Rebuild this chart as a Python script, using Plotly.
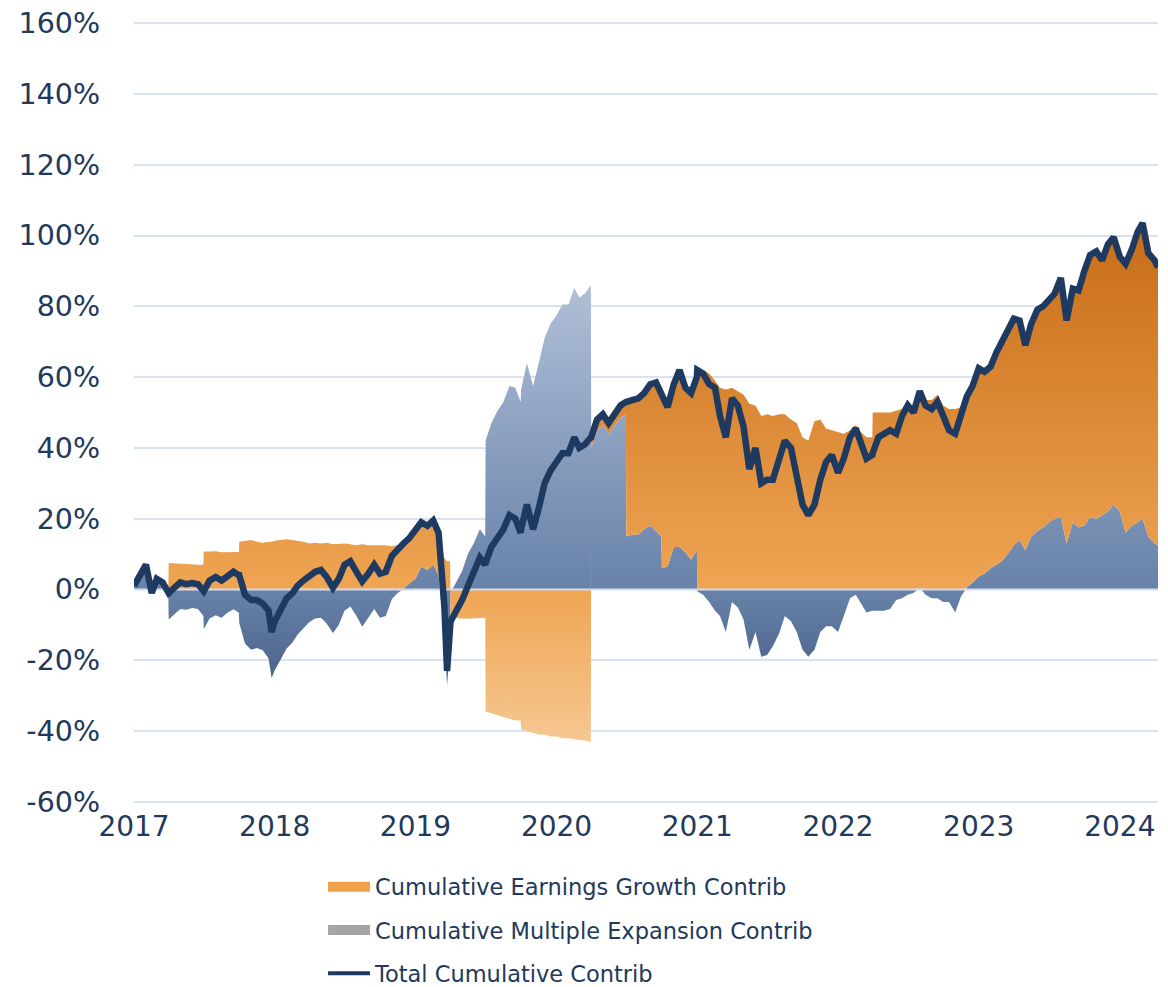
import plotly.graph_objects as go

dates = [
    "2018-01-01", "2018-01-16", "2018-02-01", "2018-02-16", "2018-03-01", "2018-03-16", "2018-03-31",
    "2018-04-01", "2018-04-16", "2018-05-01", "2018-05-16", "2018-06-01", "2018-06-16", "2018-06-30",
    "2018-07-01", "2018-07-16", "2018-08-01", "2018-08-16", "2018-09-01", "2018-09-16", "2018-09-30",
    "2018-10-01", "2018-10-16", "2018-11-01", "2018-11-16", "2018-12-01", "2018-12-16", "2018-12-24",
    "2019-01-01", "2019-01-16", "2019-02-01", "2019-02-16", "2019-03-01", "2019-03-16",
    "2019-04-01", "2019-04-16", "2019-05-01", "2019-05-16", "2019-06-01", "2019-06-16",
    "2019-07-01", "2019-07-16", "2019-08-01", "2019-08-16", "2019-09-01", "2019-09-16",
    "2019-10-01", "2019-10-16", "2019-11-01", "2019-11-16", "2019-12-01", "2019-12-16",
    "2020-01-01", "2020-01-16", "2020-02-01", "2020-02-16", "2020-03-01", "2020-03-16", "2020-03-23", "2020-03-31",
    "2020-04-01", "2020-04-16", "2020-05-01", "2020-05-16", "2020-06-01", "2020-06-16", "2020-06-30",
    "2020-07-01", "2020-07-16", "2020-08-01", "2020-08-16", "2020-09-01", "2020-09-16", "2020-09-30",
    "2020-10-01", "2020-10-16", "2020-11-01", "2020-11-16", "2020-12-01", "2020-12-16",
    "2021-01-01", "2021-01-16", "2021-02-01", "2021-02-16", "2021-03-01", "2021-03-16", "2021-03-31",
    "2021-04-01", "2021-04-16", "2021-05-01", "2021-05-16", "2021-06-01", "2021-06-16", "2021-06-30",
    "2021-07-01", "2021-07-16", "2021-08-01", "2021-08-16", "2021-09-01", "2021-09-16", "2021-09-30",
    "2021-10-01", "2021-10-16", "2021-11-01", "2021-11-16", "2021-12-01", "2021-12-16", "2021-12-31",
    "2022-01-01", "2022-01-16", "2022-02-01", "2022-02-16", "2022-03-01", "2022-03-16",
    "2022-04-01", "2022-04-16", "2022-05-01", "2022-05-16", "2022-06-01", "2022-06-16",
    "2022-07-01", "2022-07-16", "2022-08-01", "2022-08-16", "2022-09-01", "2022-09-16",
    "2022-10-01", "2022-10-16", "2022-11-01", "2022-11-16", "2022-12-01", "2022-12-16",
    "2023-01-01", "2023-01-16", "2023-02-01", "2023-02-16", "2023-03-01", "2023-03-16", "2023-03-31",
    "2023-04-01", "2023-04-16", "2023-05-01", "2023-05-16", "2023-06-01", "2023-06-16",
    "2023-07-01", "2023-07-16", "2023-08-01", "2023-08-16", "2023-09-01", "2023-09-16",
    "2023-10-01", "2023-10-16", "2023-11-01", "2023-11-16", "2023-12-01", "2023-12-16",
    "2024-01-01", "2024-01-16", "2024-02-01", "2024-02-16", "2024-03-01", "2024-03-16",
    "2024-04-01", "2024-04-16", "2024-05-01", "2024-05-16", "2024-06-01", "2024-06-16",
    "2024-07-01", "2024-07-16", "2024-08-01", "2024-08-16", "2024-09-01", "2024-09-16",
    "2024-10-01", "2024-10-16", "2024-11-01", "2024-11-16", "2024-12-01", "2024-12-16",
    "2025-01-01", "2025-01-16", "2025-02-01", "2025-02-16", "2025-03-01", "2025-03-16",
    "2025-04-01", "2025-04-10",
]

# Total Cumulative Contrib (%)
total = [
    1, 4, 7, -1, 3, 2, -1,
    -1, 0.5, 2, 1.5, 1.8, 1.5, -0.5,
    -0.5, 2.5, 3.5, 2.5, 4, 5, 4,
    4, -1.5, -3, -3, -4, -6, -12,
    -9, -5.8, -2.5, -1, 1, 2.5,
    3.8, 5, 5.5, 3.5, 0.5, 3,
    7, 8, 5, 2.3, 4.5, 7,
    4.5, 5, 9.5, 11.5, 13, 14.5,
    17, 19, 18, 19.5, 16, -4.7, -23, -9,
    -9, -6, -3, 1, 5, 9, 7,
    7.5, 12, 15, 17, 21, 20, 16,
    17, 24, 17, 23, 30, 33.5,
    36, 38.5, 38.5, 43, 40, 41, 43,
    43, 48, 49.5, 47, 50, 52, 53,
    53, 53.5, 54, 55.5, 58, 58.5, 55,
    55, 51.5, 58, 62, 57, 55.5, 60,
    62, 61, 58, 57, 49, 43,
    54, 52, 46, 34, 40, 30,
    31, 31, 36, 42, 40, 33,
    24, 21, 24, 31, 36, 38,
    33, 37, 43, 45.5, 41.5, 37, 38,
    38.5, 43, 44, 45, 44, 49,
    52, 50, 56, 52, 51, 53,
    49, 45, 44, 49, 54.5, 57.5,
    62.5, 61.5, 63, 67, 70, 72.5,
    76.5, 76, 69, 75, 79, 80,
    82, 83.6, 88, 76, 85, 84.5,
    90, 94.5, 95.5, 93, 97.5, 99.5,
    94, 92, 96, 101, 103.5, 95,
    93, 91,
]

# Cumulative Earnings Growth Contrib (%)
earnings = [
    0, 0, 0, 0, 0, 0, 0,
    7.5, 7.5, 7.3, 7.2, 7.0, 7.0, 7.0,
    10.7, 10.7, 10.8, 10.5, 10.5, 10.6, 10.6,
    13.5, 13.8, 14, 13.5, 13.2, 13.5, 13.5,
    13.8, 14, 14.2, 14, 13.8, 13.5,
    13, 13.2, 13, 13.2, 12.8, 13,
    13, 12.8, 12.5, 12.8, 12.5, 12.5,
    12.5, 12.5, 12.2, 12.5, 12.8, 12.8,
    14, 12.5, 12.5, 12.5, 12, 9, 8, 8,
    -8, -8, -8.2, -8.3, -8.2, -8, -8,
    -34.5, -35, -35.5, -36, -36.5, -37, -37,
    -39.5, -40, -40.5, -41, -41, -41.5,
    -41.5, -42, -42, -42.2, -42.5, -42.7, -43,
    3, 3, 3, 3, 3.5, 3.5, 3.5,
    38, 38, 38.5, 38.5, 40, 42, 40,
    49, 45, 46, 50, 46.5, 47, 49,
    62.5, 62, 61, 59, 57, 56.5,
    57, 56, 55, 52.5, 52, 49,
    49.5, 49, 49.5, 49.5, 48, 47,
    43, 42, 47.5, 48, 45.5, 45,
    44.5, 44, 45, 46.5, 44.5, 43, 43,
    50, 50, 50, 50, 50.5, 51,
    53, 51, 55.5, 53.5, 53.5, 55,
    52, 51, 51, 51.5, 54, 55.5,
    58.8, 57, 57, 60, 62, 62.5,
    64, 62, 58, 60, 62.5, 62.5,
    63, 63.6, 67.5, 63, 66, 67,
    72, 74, 75.5, 72, 75.5, 75.5,
    72, 76, 78, 82, 83.5, 80,
    80, 78.5,
]

# Cumulative Multiple Expansion Contrib (%)
multiple = [
    1, 4, 7, -1, 3, 2, -1,
    -8.5, -7, -5.5, -5.7, -5.2, -5.5, -7.5,
    -11.2, -8.2, -7.3, -8, -6.5, -5.6, -6.6,
    -9.5, -15.3, -17, -16.5, -17.2, -19.5, -25,
    -22.8, -19.8, -16.7, -15, -12.8, -11,
    -9.2, -8.2, -8, -9.7, -12.3, -10,
    -6, -4.8, -7.5, -10.5, -8, -5.5,
    -8, -7.5, -2.7, -1, 0.2, 1.7,
    3, 6.5, 5.5, 7, 4, -13.7, -27, -16,
    -1, 2, 5.2, 10, 13.2, 17, 15,
    42, 47, 50.5, 53, 57.5, 57, 53,
    56.5, 64, 57.5, 64, 71, 75,
    77.5, 80.5, 80.5, 85.2, 82.5, 83.7, 86,
    40, 45, 46.5, 44, 46.5, 48.5, 49.5,
    15, 15.5, 15.5, 17, 18, 16.5, 15,
    6, 6.5, 12, 12, 10.5, 8.5, 11,
    -0.5, -1.5, -3.5, -6, -7.5, -12,
    -3.5, -5, -8.5, -17, -12, -19,
    -18.5, -16, -12.5, -7.5, -9, -12,
    -17, -19, -17, -12, -10.4, -10.4,
    -12, -7.5, -2.5, -1.5, -3.7, -6.5, -6,
    -6, -6, -6, -5.5, -3, -2.5,
    -1.5, -1, 0.5, -1.5, -2.5, -2.5,
    -3.5, -3.5, -6.5, -2, 0.5, 2,
    3.7, 4.5, 6, 7, 8, 10,
    12.5, 14, 11, 15, 16.5, 17.5,
    19, 20, 20.5, 13, 19, 17.5,
    18, 20.5, 20, 21, 22, 24,
    22, 16, 18, 19, 20, 15,
    13, 12.5,
]

y_tickvals = [-60, -40, -20, 0, 20, 40, 60, 80, 100, 120, 140, 160]
y_ticktext = ["-60%", "-40%", "-20%", "0%", "20%", "40%", "60%", "80%", "100%", "120%", "140%", "160%"]
x_tickvals = ["2018-01-01", "2019-01-01", "2020-01-01", "2021-01-01",
              "2022-01-01", "2023-01-01", "2024-01-01", "2025-01-01"]
x_ticktext = ["2017", "2018", "2019", "2020", "2021", "2022", "2023", "2024"]

series_names = ["Cumulative Earnings Growth Contrib",
                "Cumulative Multiple Expansion Contrib",
                "Total Cumulative Contrib"]

NAVY = "#1f3a60"
TEXT = "#22395c"
FONT = "DejaVu Sans, Noto Sans, sans-serif"

# Visual bands: when both contributions are positive the earnings band sits on top
# of the multiple band; otherwise each band is drawn from zero.
orange_lo = [m if (e >= 0 and m >= 0) else 0 for e, m in zip(earnings, multiple)]
orange_hi = [lo + e for lo, e in zip(orange_lo, earnings)]

fig = go.Figure()

fig.add_trace(go.Scatter(
    x=dates, y=multiple, mode="lines", line=dict(width=0, color="rgba(0,0,0,0)"),
    fill="tozeroy", fillcolor="#7189ad",
    fillgradient=dict(type="vertical", start=-27, stop=87,
                      colorscale=[[0, "#4a6189"], [0.23, "#6781a8"], [1, "#b1c0d8"]]),
    showlegend=False, hoverinfo="skip",
))
fig.add_trace(go.Scatter(
    x=dates, y=orange_lo, mode="lines", line=dict(width=0, color="rgba(0,0,0,0)"),
    showlegend=False, hoverinfo="skip",
))
fig.add_trace(go.Scatter(
    x=dates, y=orange_hi, mode="lines", line=dict(width=0, color="rgba(0,0,0,0)"),
    fill="tonexty", fillcolor="#eb9d48",
    fillgradient=dict(type="vertical", start=-44, stop=104,
                      colorscale=[[0, "#f6c893"], [0.297, "#efa553"], [1, "#c76c18"]]),
    showlegend=False, hoverinfo="skip",
))
# zero baseline drawn over the fills
fig.add_trace(go.Scatter(
    x=[dates[0], dates[-1]], y=[0, 0], mode="lines",
    line=dict(width=2, color="#d3dcec"), showlegend=False, hoverinfo="skip",
))
fig.add_trace(go.Scatter(
    x=dates, y=total, mode="lines", line=dict(width=6.5, color=NAVY),
    showlegend=False, hoverinfo="skip",
))

# legend entries
fig.add_trace(go.Scatter(x=[None], y=[None], mode="lines", name=series_names[0],
                         line=dict(width=14, color="#f0a14c"), legendgroup="a"))
fig.add_trace(go.Scatter(x=[None], y=[None], mode="lines", name=series_names[1],
                         line=dict(width=14, color="#a5a5a5"), legendgroup="b"))
fig.add_trace(go.Scatter(x=[None], y=[None], mode="lines", name=series_names[2],
                         line=dict(width=4, color=NAVY), legendgroup="c"))

fig.update_layout(
    width=1168, height=987,
    margin=dict(l=126, r=18, t=13, b=191, autoexpand=False),
    paper_bgcolor="white", plot_bgcolor="white",
    font=dict(family=FONT, color=TEXT, size=26),
    showlegend=True,
    legend=dict(
        x=0.1846, y=-0.0786, xanchor="left", yanchor="top",
        orientation="v", traceorder="grouped", tracegroupgap=11,
        font=dict(family=FONT, size=22.5, color=TEXT),
        itemwidth=42, bgcolor="rgba(0,0,0,0)",
    ),
)
fig.update_yaxes(
    range=[-60.6, 160.6], tickvals=y_tickvals, ticktext=y_ticktext,
    showgrid=True, gridcolor="#d9e2f1", gridwidth=1.5,
    zeroline=False, showline=False, ticks="",
    ticklabelstandoff=33, ticklabeloverflow="allow",
    tickfont=dict(size=28.5, color=TEXT),
    fixedrange=True,
)
fig.update_xaxes(
    type="date", range=[dates[0], dates[-1]],
    tickvals=x_tickvals, ticktext=x_ticktext,
    showgrid=False, zeroline=False, showline=False, ticks="",
    ticklabelstandoff=3, ticklabeloverflow="allow",
    tickfont=dict(size=28, color=TEXT),
    fixedrange=True,
)

fig.write_html("out.html")
